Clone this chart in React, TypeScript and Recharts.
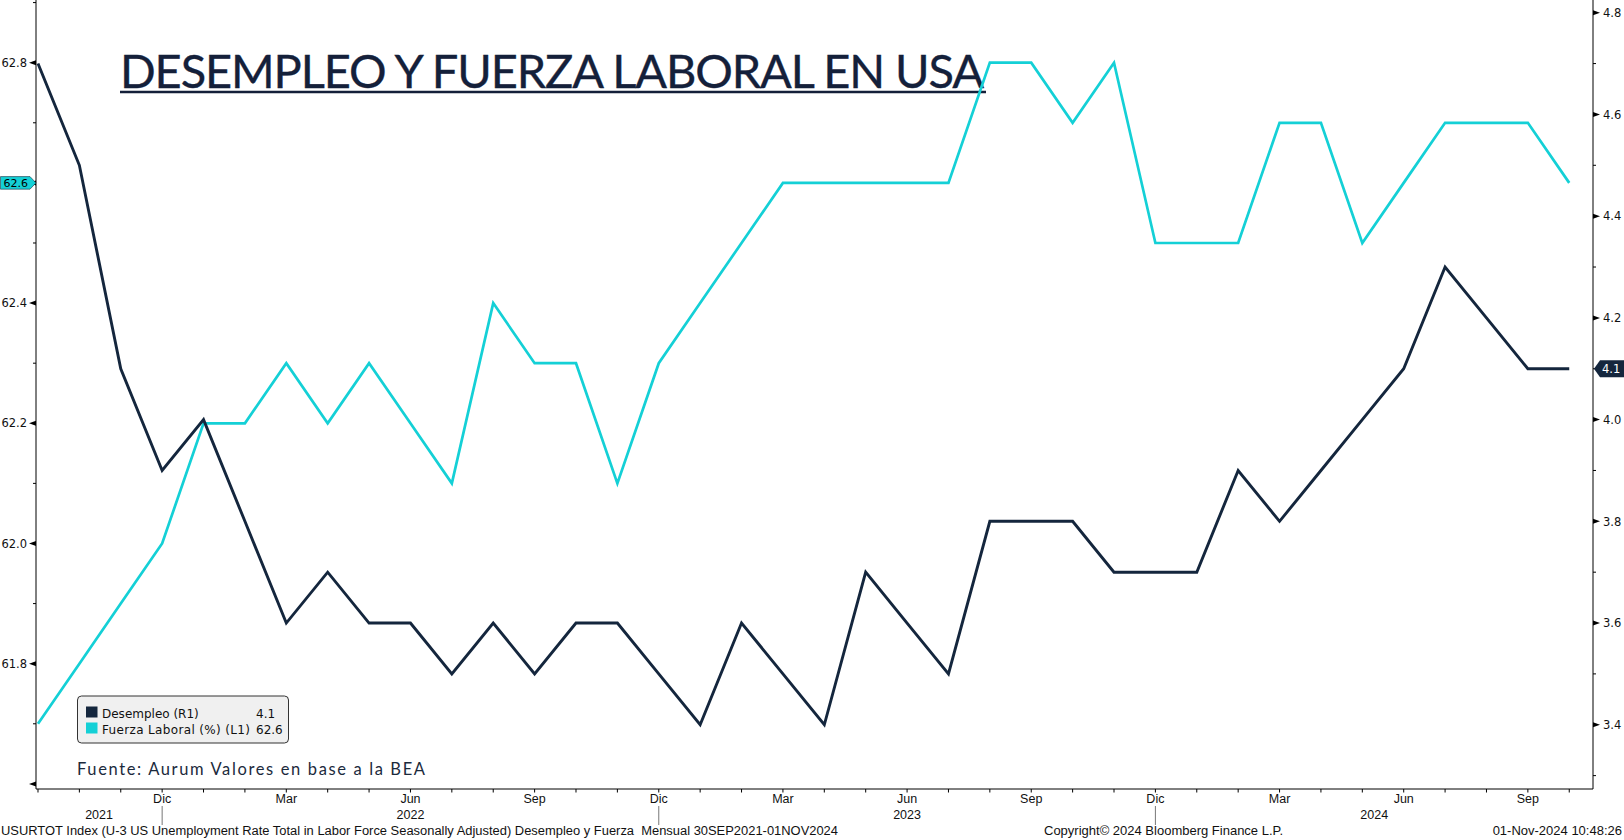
import React from 'react';
import { LineChart, Line, XAxis, YAxis } from 'recharts';

// ---------------- DATA ----------------
const months = [
  '2021-09', '2021-10', '2021-11', '2021-12',
  '2022-01', '2022-02', '2022-03', '2022-04', '2022-05', '2022-06',
  '2022-07', '2022-08', '2022-09', '2022-10', '2022-11', '2022-12',
  '2023-01', '2023-02', '2023-03', '2023-04', '2023-05', '2023-06',
  '2023-07', '2023-08', '2023-09', '2023-10', '2023-11', '2023-12',
  '2024-01', '2024-02', '2024-03', '2024-04', '2024-05', '2024-06',
  '2024-07', '2024-08', '2024-09', '2024-10',
];

// Desempleo (R1) - right axis
const unemployment = [
  4.7, 4.5, 4.1, 3.9,
  4.0, 3.8, 3.6, 3.7, 3.6, 3.6, 3.5, 3.6, 3.5, 3.6, 3.6, 3.5,
  3.4, 3.6, 3.5, 3.4, 3.7, 3.6, 3.5, 3.8, 3.8, 3.8, 3.7, 3.7,
  3.7, 3.9, 3.8, 3.9, 4.0, 4.1, 4.3, 4.2, 4.1, 4.1,
];

// Fuerza Laboral (%) (L1) - left axis
const laborForce = [
  61.7, 61.8, 61.9, 62.0,
  62.2, 62.2, 62.3, 62.2, 62.3, 62.2, 62.1, 62.4, 62.3, 62.3, 62.1, 62.3,
  62.4, 62.5, 62.6, 62.6, 62.6, 62.6, 62.6, 62.8, 62.8, 62.7, 62.8, 62.5,
  62.5, 62.5, 62.7, 62.7, 62.5, 62.6, 62.7, 62.7, 62.7, 62.6,
];

const monthNames = ['Ene', 'Feb', 'Mar', 'Abr', 'May', 'Jun', 'Jul', 'Ago', 'Sep', 'Oct', 'Nov', 'Dic'];
const labeledMonths = [3, 6, 9, 12];

const leftTicks = [61.6, 61.7, 61.8, 61.9, 62.0, 62.1, 62.2, 62.3, 62.4, 62.5, 62.6, 62.7, 62.8, 62.9];
const leftMajorTicks = [61.6, 61.8, 62.0, 62.2, 62.4, 62.6, 62.8];
const leftLabelTicks = [61.8, 62.0, 62.2, 62.4, 62.6, 62.8];

const rightTicks = [3.3, 3.4, 3.5, 3.6, 3.7, 3.8, 3.9, 4.0, 4.1, 4.2, 4.3, 4.4, 4.5, 4.6, 4.7, 4.8];
const rightMajorTicks = [3.4, 3.6, 3.8, 4.0, 4.2, 4.4, 4.6, 4.8];
const rightLabelTicks = [3.4, 3.6, 3.8, 4.0, 4.2, 4.4, 4.6, 4.8];

const leftDomain = [61.5915, 62.9043];
const rightDomain = [3.2737, 4.825];
const xDomain = [-0.048, 37.574];

const seriesUnempName = 'Desempleo (R1)';
const seriesLfName = 'Fuerza Laboral (%) (L1)';
const titleText = 'DESEMPLEO Y FUERZA LABORAL EN USA';
const sourceText = 'Fuente: Aurum Valores en base a la BEA';
const footerLeft =
  'USURTOT Index (U-3 US Unemployment Rate Total in Labor Force Seasonally Adjusted) Desempleo y Fuerza  Mensual 30SEP2021-01NOV2024';
const footerCenter = 'Copyright\u00A9 2024 Bloomberg Finance L.P.';
const footerRight = '01-Nov-2024 10:48:26';

// ---------------- STYLE ----------------
const NAVY = '#14263d';
const CYAN = '#14d0d6';
const AXIS_FONT = '"DejaVu Sans", Verdana, sans-serif';
const NARROW_FONT = '"Liberation Sans", Arial, sans-serif';
const TITLE_FONT = 'Lato, "Noto Sans", sans-serif';

const data = months.map((m, i) => ({ i, month: m, unemp: unemployment[i], lf: laborForce[i] }));
const lastUnemp = unemployment[unemployment.length - 1];
const lastLf = laborForce[laborForce.length - 1];

const near = (a: number, b: number) => Math.abs(a - b) < 1e-6;
const inList = (list: number[], v: number) => list.some((t) => near(t, v));

// year centers: between year boundaries (December points) / axis ends
const yearList: string[] = [];
months.forEach((m) => {
  const y = m.slice(0, 4);
  if (!yearList.includes(y)) yearList.push(y);
});
const yearCenters: number[] = [];
const yearLabelByCenter: Record<string, string> = {};
{
  let start = xDomain[0];
  yearList.forEach((y) => {
    const decIdx = months.indexOf(`${y}-12`);
    const end = decIdx >= 0 ? decIdx : xDomain[1];
    const c = (start + end) / 2;
    yearCenters.push(c);
    yearLabelByCenter[c.toFixed(4)] = y;
    start = end;
  });
}
const monthTicks = data.map((d) => d.i);

const LeftTick = (props: any) => {
  const { x, y, payload } = props;
  const v = payload.value as number;
  const major = inList(leftMajorTicks, v);
  const label = inList(leftLabelTicks, v);
  const isLast = near(v, lastLf);
  return (
    <g>
      {major ? (
        <polygon points={`${x},${y - 2.5} ${x},${y + 2.5} ${x - 7},${y}`} fill="#000" />
      ) : (
        <line x1={x - 3} x2={x} y1={y} y2={y} stroke="#000" strokeWidth={1} />
      )}
      {label && !isLast && (
        <text x={x - 9} y={y + 4.2} textAnchor="end" fontFamily={AXIS_FONT} fontSize={11.5} fill="#111">
          {v.toFixed(1)}
        </text>
      )}
      {isLast && (
        <g>
          <polygon
            points={`0.5,${y - 6.3} ${x - 6},${y - 6.3} ${x},${y} ${x - 6},${y + 6.3} 0.5,${y + 6.3}`}
            fill={CYAN}
            stroke="#1d3040"
            strokeWidth={0.6}
          />
          <text x={x - 8} y={y + 4} textAnchor="end" fontFamily={AXIS_FONT} fontSize={11} fill="#000">
            {v.toFixed(1)}
          </text>
        </g>
      )}
    </g>
  );
};

const RightTick = (props: any) => {
  const { x, y, payload } = props;
  const v = payload.value as number;
  const major = inList(rightMajorTicks, v);
  const label = inList(rightLabelTicks, v);
  const isLast = near(v, lastUnemp);
  return (
    <g>
      {major ? (
        <polygon points={`${x},${y - 2.5} ${x},${y + 2.5} ${x + 7},${y}`} fill="#000" />
      ) : (
        <line x1={x} x2={x + 3} y1={y} y2={y} stroke="#000" strokeWidth={1} />
      )}
      {label && !isLast && (
        <text x={x + 10} y={y + 4.2} textAnchor="start" fontFamily={AXIS_FONT} fontSize={11.5} fill="#111">
          {v.toFixed(1)}
        </text>
      )}
      {isLast && (
        <g>
          <polygon
            points={`${x + 1},${y} ${x + 7},${y - 8.5} ${x + 40},${y - 8.5} ${x + 40},${y + 8.5} ${x + 7},${y + 8.5}`}
            fill={NAVY}
          />
          <text x={x + 9} y={y + 4.2} textAnchor="start" fontFamily={AXIS_FONT} fontSize={11.5} fill="#fff">
            {v.toFixed(1)}
          </text>
        </g>
      )}
    </g>
  );
};

const MonthTick = (props: any) => {
  const { x, y, payload } = props;
  const idx = Math.round(payload.value as number);
  const m = months[idx];
  if (!m) return <g />;
  const mm = parseInt(m.slice(5, 7), 10);
  const showLabel = idx > 0 && labeledMonths.includes(mm);
  return (
    <g>
      <line x1={x} x2={x} y1={y} y2={y + 3.5} stroke="#000" strokeWidth={1} />
      {showLabel && (
        <text x={x} y={y + 14.2} textAnchor="middle" fontFamily={NARROW_FONT} fontSize={12.5} fill="#111">
          {monthNames[mm - 1]}
        </text>
      )}
      {mm === 12 && <line x1={x} x2={x} y1={y + 17} y2={y + 36} stroke="#777" strokeWidth={1} />}
    </g>
  );
};

const YearTick = (props: any) => {
  const { x, y, payload } = props;
  const label = yearLabelByCenter[(payload.value as number).toFixed(4)];
  if (!label) return <g />;
  return (
    <text x={x} y={y + 13.8} textAnchor="middle" fontFamily={NARROW_FONT} fontSize={12.5} fill="#111">
      {label}
    </text>
  );
};

export default function App() {
  return (
    <div style={{ position: 'absolute', left: 0, top: 0, width: 1624, height: 840, background: '#fff', overflow: 'hidden' }}>
      {/* title (behind the lines) */}
      <svg width={1624} height={840} style={{ position: 'absolute', left: 0, top: 0 }}>
        <text
          x={120}
          y={88}
          fontFamily={TITLE_FONT}
          fontSize={47}
          fill="#14203a"
          stroke="#14203a"
          strokeWidth={0.35}
          textLength={864}
          lengthAdjust="spacing"
        >
          {titleText}
        </text>
        <line x1={120} x2={986} y1={92} y2={92} stroke="#14203a" strokeWidth={2.5} />
      </svg>

      <div style={{ position: 'absolute', left: 0, top: 0 }}>
        <LineChart width={1624} height={840} data={data} margin={{ top: 0, right: 0, bottom: 0, left: 0 }}>
          <XAxis
            dataKey="i"
            type="number"
            domain={xDomain}
            allowDataOverflow
            ticks={monthTicks}
            interval={0}
            tickSize={0}
            tickMargin={0}
            tickLine={false}
            axisLine={{ stroke: '#000', strokeWidth: 1 }}
            tick={MonthTick}
            height={16}
          />
          <XAxis
            xAxisId="year"
            dataKey="i"
            type="number"
            domain={xDomain}
            allowDataOverflow
            ticks={yearCenters}
            interval={0}
            tickSize={0}
            tickMargin={0}
            tickLine={false}
            axisLine={false}
            tick={YearTick}
            height={35}
          />
          <YAxis
            yAxisId="left"
            orientation="left"
            type="number"
            domain={leftDomain}
            allowDataOverflow
            ticks={leftTicks}
            interval={0}
            tickSize={0}
            tickMargin={0}
            tickLine={false}
            axisLine={{ stroke: '#000', strokeWidth: 1 }}
            tick={LeftTick}
            width={36}
          />
          <YAxis
            yAxisId="right"
            orientation="right"
            type="number"
            domain={rightDomain}
            allowDataOverflow
            ticks={rightTicks}
            interval={0}
            tickSize={0}
            tickMargin={0}
            tickLine={false}
            axisLine={{ stroke: '#000', strokeWidth: 1 }}
            tick={RightTick}
            width={31}
          />
          <Line
            yAxisId="left"
            type="linear"
            dataKey="lf"
            name={seriesLfName}
            stroke={CYAN}
            strokeWidth={2.7}
            dot={false}
            isAnimationActive={false}
          />
          <Line
            yAxisId="right"
            type="linear"
            dataKey="unemp"
            name={seriesUnempName}
            stroke={NAVY}
            strokeWidth={2.9}
            dot={false}
            isAnimationActive={false}
          />
        </LineChart>
      </div>

      {/* legend, source, footer */}
      <svg width={1624} height={840} style={{ position: 'absolute', left: 0, top: 0, pointerEvents: 'none' }}>
        <rect x={77.5} y={696} width={211} height={47} rx={4} ry={4} fill="#f0f0f0" stroke="#333" strokeWidth={1} />
        <rect x={86} y={706.5} width={11.5} height={11} fill={NAVY} />
        <rect x={86} y={722.5} width={11.5} height={11} fill={CYAN} />
        <text x={102} y={717.5} fontFamily={AXIS_FONT} fontSize={12} fill="#111">{seriesUnempName}</text>
        <text x={256} y={717.5} fontFamily={AXIS_FONT} fontSize={12} fill="#111">{lastUnemp.toFixed(1)}</text>
        <text x={102} y={733.5} fontFamily={AXIS_FONT} fontSize={12} fill="#111" textLength={148} lengthAdjust="spacing">{seriesLfName}</text>
        <text x={256} y={733.5} fontFamily={AXIS_FONT} fontSize={12} fill="#111">{lastLf.toFixed(1)}</text>

        <text x={77} y={775} fontFamily={TITLE_FONT} fontSize={16.5} fill="#1b2a3c" textLength={348} lengthAdjust="spacing">
          {sourceText}
        </text>

        <text x={1} y={835} fontFamily={NARROW_FONT} fontSize={12.5} fill="#111" style={{ whiteSpace: 'pre' }} textLength={837} lengthAdjust="spacingAndGlyphs">
          {footerLeft}
        </text>
        <text x={1044} y={835} fontFamily={NARROW_FONT} fontSize={13} fill="#111">{footerCenter}</text>
        <text x={1622} y={835} textAnchor="end" fontFamily={NARROW_FONT} fontSize={13} fill="#111">{footerRight}</text>
      </svg>
    </div>
  );
}
